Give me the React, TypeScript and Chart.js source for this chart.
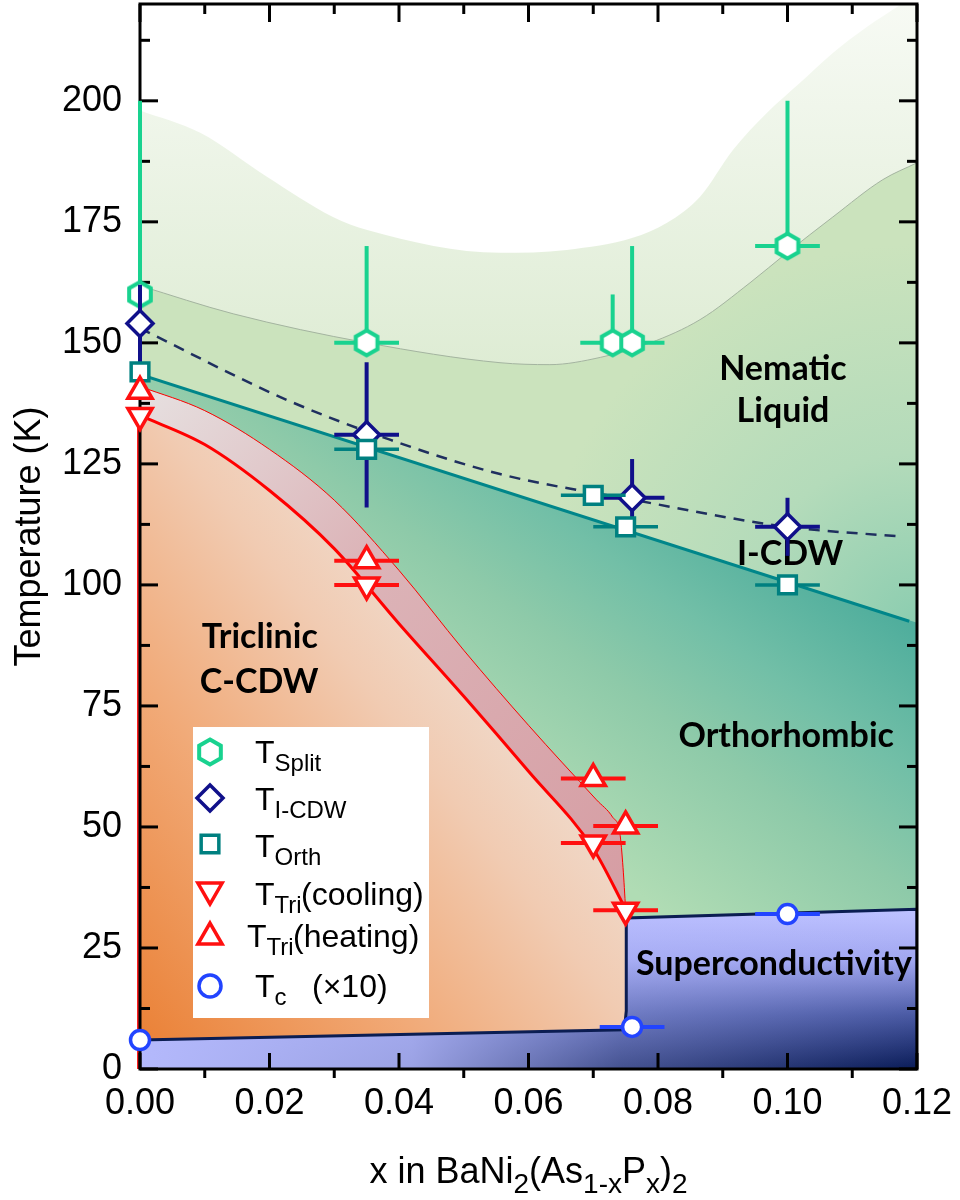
import React, { useEffect, useRef } from 'react';
import { Chart, registerables } from 'chart.js';
import { drawPoint } from 'chart.js/helpers';

Chart.register(...registerables);

// ---------------- data ----------------
const xTicks = [0, 0.02, 0.04, 0.06, 0.08, 0.1, 0.12];
const xMinorTicks = [0.01, 0.03, 0.05, 0.07, 0.09, 0.11];
const yTicks = [0, 25, 50, 75, 100, 125, 150, 175, 200];
const yMinorTicks = [12.5, 37.5, 62.5, 87.5, 112.5, 137.5, 162.5, 187.5, 212.5];

// T_Split (hexagons)
const splitX = [0, 0.035, 0.073, 0.076, 0.1];
const splitT = [160, 150, 150, 150, 170];
const splitErrUp = [40, 20, 10, 20, 30];
const splitErrX = [0, 0.005, 0.005, 0.005, 0.005];

// T_I-CDW (diamonds)
const icdwX = [0, 0.035, 0.076, 0.1];
const icdwT = [154, 131, 118, 112];
const icdwErr = [8, 15, 8, 6];
const icdwErrX = [0, 0.005, 0.005, 0.005];

// T_Orth (squares)
const orthX = [0, 0.035, 0.07, 0.075, 0.1];
const orthT = [144, 128, 118.5, 112, 100];
const orthErrX = [0, 0.005, 0.005, 0.005, 0.005];

// T_Tri cooling (down triangles)
const coolX = [0, 0.035, 0.07, 0.075];
const coolT = [135, 100, 46.7, 32.8];
const coolErrX = [0, 0.005, 0.005, 0.005];

// T_Tri heating (up triangles)
const heatX = [0, 0.035, 0.07, 0.075];
const heatT = [140, 105, 60, 50.2];
const heatErrX = [0, 0.005, 0.005, 0.005];

// Tc x10 (circles)
const tcX = [0, 0.076, 0.1];
const tcT = [6, 8.7, 32];
const tcErrX = [0, 0.005, 0.005];

// phase boundaries
const fluctX = [0, 0.0093, 0.0196, 0.0298, 0.0351, 0.0556, 0.0659, 0.0761, 0.0814, 0.0865, 0.0916, 0.0968, 0.1019, 0.107, 0.1123, 0.1174, 0.12];
const fluctT = [198, 193.4, 184.3, 176, 173.3, 168.6, 169.2, 171.7, 174.8, 180.2, 189.9, 197.5, 203.7, 209.9, 215.3, 219.8, 222];

const nematicX = [0, 0.0144, 0.0351, 0.0556, 0.0633, 0.0711, 0.0788, 0.0865, 0.0942, 0.0999, 0.107, 0.1147, 0.12];
const nematicT = [161.8, 156, 150, 145.9, 145.5, 147, 150, 154.8, 162.4, 168.6, 176, 183.7, 187.2];

const icdwLineX = [0, 0.0227, 0.0386, 0.0556, 0.0761, 0.0999, 0.1174];
const icdwLineT = [153, 138.2, 130, 122.9, 117.6, 112, 110];

const orthLineX = [0, 0.1188];
const orthLineT = [143.5, 92.5];
const orthFillX = [0, 0.12];
const orthFillT = [143.5, 92.2];

const heatLineX = [0, 0.01, 0.02, 0.03, 0.04, 0.05, 0.06, 0.0705, 0.073, 0.0741, 0.0746, 0.075];
const heatLineT = [141, 136, 128, 117.5, 103, 86.5, 71, 55.6, 52, 48.8, 41.6, 33];

const coolLineX = [0, 0.01, 0.02, 0.03, 0.04, 0.05, 0.06, 0.07, 0.075];
const coolLineT = [135, 129, 119.5, 107.5, 92, 77, 61.5, 45.5, 33];

const scX = [0, 0.0748, 0.0751, 0.0751, 0.12, 0.12];
const scT = [6, 8.1, 12, 31.2, 33, 0];

// ---------------- helpers ----------------
const SANS = '"Liberation Sans", Arial, sans-serif';
const BOLD = '"Lato", "Open Sans", sans-serif';
const C_SPLIT = '#19d28f';
const C_ICDW = '#10108a';
const C_ORTH = '#008080';
const C_TRI = '#ff1010';
const C_TC = '#2244ff';

const pts = (xs: number[], ys: number[]) => xs.map((x, i) => ({ x, y: ys[i] }));

function linGrad(chart: any, x0: number, y0: number, x1: number, y1: number, stops: [number, string][]) {
  const { ctx, scales } = chart;
  const g = ctx.createLinearGradient(
    scales.x.getPixelForValue(x0), scales.y.getPixelForValue(y0),
    scales.x.getPixelForValue(x1), scales.y.getPixelForValue(y1));
  stops.forEach(([o, c]) => g.addColorStop(o, c));
  return g;
}
function radGrad(chart: any, x0: number, y0: number, r: number, stops: [number, string][]) {
  const { ctx, scales } = chart;
  const cx = scales.x.getPixelForValue(x0), cy = scales.y.getPixelForValue(y0);
  const g = ctx.createRadialGradient(cx, cy, 0, cx, cy, r);
  stops.forEach(([o, c]) => g.addColorStop(o, c));
  return g;
}
const scripted = (fn: (chart: any) => any, fallback: string) => (c: any) =>
  c.chart.chartArea ? fn(c.chart) : fallback;

function makeHex(): HTMLCanvasElement {
  const cv = document.createElement('canvas');
  cv.width = 32; cv.height = 34;
  const g = cv.getContext('2d')!;
  g.beginPath();
  for (let k = 0; k < 6; k++) {
    const a = -Math.PI / 2 + k * Math.PI / 3;
    const x = 16 + 12.5 * Math.cos(a), y = 17 + 12.5 * Math.sin(a);
    if (k === 0) g.moveTo(x, y); else g.lineTo(x, y);
  }
  g.closePath();
  g.fillStyle = '#fff';
  g.fill();
  g.lineWidth = 4;
  g.strokeStyle = C_SPLIT;
  g.stroke();
  return cv;
}

type Part = { t: string; s?: boolean };
function drawRich(ctx: CanvasRenderingContext2D, parts: Part[], x: number, y: number, mainF: string, subF: string, subDy: number, center: boolean) {
  let w = 0;
  parts.forEach(p => { ctx.font = p.s ? subF : mainF; w += ctx.measureText(p.t).width; });
  let cx = center ? x - w / 2 : x;
  ctx.textAlign = 'left';
  ctx.textBaseline = 'alphabetic';
  parts.forEach(p => {
    ctx.font = p.s ? subF : mainF;
    ctx.fillText(p.t, cx, y + (p.s ? subDy : 0));
    cx += ctx.measureText(p.t).width;
  });
  return cx;
}

// error bars drawn beneath each marker dataset
const errorBarPlugin = {
  id: 'errorBars',
  beforeDatasetDraw(chart: any, args: any) {
    const ds: any = chart.data.datasets[args.index];
    if (!ds.errX && !ds.errUp) return;
    const { ctx, scales: { x, y } } = chart;
    ctx.save();
    ctx.strokeStyle = ds.errColor;
    ctx.lineWidth = ds.errWidth || 4;
    ctx.lineCap = 'butt';
    ds.data.forEach((p: any, i: number) => {
      const px = x.getPixelForValue(p.x), py = y.getPixelForValue(p.y);
      const dx = ds.errX ? ds.errX[i] : 0;
      if (dx) {
        ctx.beginPath();
        ctx.moveTo(x.getPixelForValue(p.x - dx), py);
        ctx.lineTo(x.getPixelForValue(p.x + dx), py);
        ctx.stroke();
      }
      const up = ds.errUp ? ds.errUp[i] : 0;
      const dn = ds.errDown ? ds.errDown[i] : 0;
      if (up || dn) {
        ctx.beginPath();
        ctx.moveTo(px, y.getPixelForValue(p.y + up));
        ctx.lineTo(px, y.getPixelForValue(p.y - dn));
        ctx.stroke();
      }
    });
    ctx.restore();
  },
};

const regionLabels = [
  { t: 'Nematic', x: 0.0993, y: 142.4 },
  { t: 'Liquid', x: 0.0993, y: 133.7 },
  { t: 'I-CDW', x: 0.1004, y: 104.1 },
  { t: 'Orthorhombic', x: 0.0998, y: 66.5 },
  { t: 'Triclinic', x: 0.0185, y: 87 },
  { t: 'C-CDW', x: 0.0184, y: 77.7 },
  { t: 'Superconductivity', x: 0.0979, y: 19.4 },
];

// frame, ticks and region labels drawn after the fills, under the markers
const framePlugin = {
  id: 'frame',
  afterDatasetDraw(chart: any, args: any) {
    const ds: any = chart.data.datasets[args.index];
    if (!ds.drawFrameAfter) return;
    const { ctx, chartArea: a, scales: { x, y } } = chart;
    ctx.save();
    // thin red edge of the triclinic region along x = 0
    ctx.strokeStyle = '#ff2020';
    ctx.lineWidth = 2;
    ctx.beginPath();
    ctx.moveTo(a.left - 2, y.getPixelForValue(135));
    ctx.lineTo(a.left - 2, a.bottom);
    ctx.stroke();

    ctx.strokeStyle = '#000';
    ctx.lineWidth = 3;
    ctx.lineCap = 'square';
    ctx.strokeRect(a.left, a.top, a.right - a.left, a.bottom - a.top);
    ctx.lineCap = 'butt';
    const seg = (x0: number, y0: number, x1: number, y1: number) => {
      ctx.beginPath(); ctx.moveTo(x0, y0); ctx.lineTo(x1, y1); ctx.stroke();
    };
    yTicks.forEach(v => { const p = y.getPixelForValue(v); seg(a.left, p, a.left + 18, p); seg(a.right, p, a.right - 18, p); });
    yMinorTicks.forEach(v => { const p = y.getPixelForValue(v); seg(a.left, p, a.left + 10, p); seg(a.right, p, a.right - 10, p); });
    xTicks.forEach(v => { const p = x.getPixelForValue(v); seg(p, a.top, p, a.top + 18); seg(p, a.bottom, p, a.bottom - 16); });
    xMinorTicks.forEach(v => { const p = x.getPixelForValue(v); seg(p, a.top, p, a.top + 10); seg(p, a.bottom, p, a.bottom + 9); });

    ctx.fillStyle = '#000';
    ctx.font = `bold 34px ${BOLD}`;
    ctx.textAlign = 'center';
    ctx.textBaseline = 'alphabetic';
    regionLabels.forEach(l => ctx.fillText(l.t, x.getPixelForValue(l.x), y.getPixelForValue(l.y)));
    ctx.restore();
  },
};

// legend and axis titles
const annotPlugin = {
  id: 'annot',
  afterDatasetsDraw(chart: any) {
    const { ctx, chartArea: a } = chart;
    const hex = chart.$hex;
    ctx.save();
    // legend box
    ctx.fillStyle = '#fff';
    ctx.fillRect(193, 727, 236, 291);
    const rows = [
      { color: C_SPLIT, style: hex, rot: 0, r: 12, my: 752, tx: 255, by: 763, sub: 'Split', tail: '', tailX: 0 },
      { color: C_ICDW, style: 'rectRot', rot: 0, r: 13, my: 798, tx: 255, by: 810, sub: 'I-CDW', tail: '', tailX: 0 },
      { color: C_ORTH, style: 'rect', rot: 0, r: 12.5, my: 844, tx: 255, by: 857, sub: 'Orth', tail: '', tailX: 0 },
      { color: C_TRI, style: 'triangle', rot: 180, r: 14, my: 890, tx: 255, by: 905, sub: 'Tri', tail: '(cooling)', tailX: 301 },
      { color: C_TRI, style: 'triangle', rot: 0, r: 14, my: 937, tx: 247, by: 947, sub: 'Tri', tail: '(heating)', tailX: 293 },
      { color: C_TC, style: 'circle', rot: 0, r: 11, my: 986, tx: 255, by: 997, sub: 'c', tail: '(\u00d710)', tailX: 312 },
    ];
    rows.forEach(r => {
      ctx.fillStyle = '#fff';
      ctx.strokeStyle = r.color;
      ctx.lineWidth = 3.5;
      drawPoint(ctx, { pointStyle: r.style, rotation: r.rot, radius: r.r, borderWidth: 3.5 } as any, 210, r.my);
      ctx.fillStyle = '#000';
      drawRich(ctx, [{ t: 'T' }, { t: r.sub, s: true }], r.tx, r.by, `32px ${SANS}`, `24px ${SANS}`, 8, false);
      if (r.tail) {
        ctx.font = `32px ${SANS}`;
        ctx.fillText(r.tail, r.tailX, r.by);
      }
    });

    // x axis title
    ctx.fillStyle = '#000';
    drawRich(ctx, [
      { t: 'x in BaNi' }, { t: '2', s: true }, { t: '(As' }, { t: '1-x', s: true },
      { t: 'P' }, { t: 'x', s: true }, { t: ')' }, { t: '2', s: true },
    ], (a.left + a.right) / 2, 1183, `36px ${SANS}`, `28px ${SANS}`, 10, true);

    // y axis title
    ctx.translate(40, (a.top + a.bottom) / 2);
    ctx.rotate(-Math.PI / 2);
    ctx.font = `36px ${SANS}`;
    ctx.textAlign = 'center';
    ctx.textBaseline = 'alphabetic';
    ctx.fillText('Temperature (K)', 0, 0);
    ctx.restore();
  },
};

export default function App() {
  const ref = useRef<HTMLCanvasElement>(null);
  useEffect(() => {
    const canvas = ref.current!;
    const hex = makeHex();
    const curve = { pointRadius: 0, cubicInterpolationMode: 'monotone' as const };
    const marker = (data: any, style: any, color: string, r: number, extra: any) => ({
      data, showLine: false, pointStyle: style, pointRadius: r, pointHoverRadius: r,
      pointBorderWidth: 3.5, pointBorderColor: color, pointBackgroundColor: '#fff',
      errColor: color, clip: false, ...extra,
    });

    const chart: any = new Chart(canvas, {
      type: 'line',
      data: {
        datasets: [
          // markers (top)
          marker(pts(tcX, tcT), 'circle', C_TC, 9.5, { order: 1, errX: tcErrX, errWidth: 4 }),
          marker(pts(heatX, heatT), 'triangle', C_TRI, 14, { order: 2, errX: heatErrX, errWidth: 4 }),
          marker(pts(coolX, coolT), 'triangle', C_TRI, 14, { order: 3, errX: coolErrX, errWidth: 4, pointRotation: 180 }),
          marker(pts(orthX, orthT), 'rect', C_ORTH, 12.5, { order: 4, errX: orthErrX, errWidth: 3.5 }),
          marker(pts(icdwX, icdwT), 'rectRot', C_ICDW, 13, { order: 5, errX: icdwErrX, errUp: icdwErr, errDown: icdwErr, errWidth: 4 }),
          marker(pts(splitX, splitT), hex, C_SPLIT, 12, { order: 6, errX: splitErrX, errUp: splitErrUp, errWidth: 4 }),
          // boundary lines
          { data: pts(orthLineX, orthLineT), pointRadius: 0, tension: 0, borderColor: '#00868a', borderWidth: 3, fill: false, order: 20, drawFrameAfter: true },
          { data: pts(icdwLineX, icdwLineT), ...curve, borderColor: '#1f2f5f', borderWidth: 2.5, borderDash: [11, 8], fill: false, order: 21 },
          // filled regions (bottom)
          {
            data: pts(scX, scT), pointRadius: 0, tension: 0, borderColor: '#0b1d52', borderWidth: 3, fill: 'origin', order: 94,
            backgroundColor: scripted(ch => linGrad(ch, 0, 0, 0.12, 0, [[0, 'rgba(180,185,252,1)'], [0.35, 'rgba(180,185,252,0.85)'], [0.62, 'rgba(180,185,252,0.34)'], [1, 'rgba(180,185,252,0)']]), '#b0b4f8'),
          },
          {
            data: pts(scX, scT), pointRadius: 0, tension: 0, borderWidth: 0, fill: 'origin', order: 95,
            backgroundColor: scripted(ch => linGrad(ch, 0, 32, 0, 0, [[0, '#bcc0ff'], [0.3, '#a0a6f0'], [0.65, '#4a5aa4'], [1, '#0a1c58']]), '#8088d0'),
          },
          {
            data: pts(coolLineX, coolLineT), ...curve, borderColor: '#ff0000', borderWidth: 3, fill: 'origin', order: 96,
            backgroundColor: scripted(ch => linGrad(ch, 0, 2, 0.071, 76, [[0, '#ea7f33'], [0.4, '#f1aa78'], [0.7, '#f1cbb2'], [1, '#efe4dc']]), '#f1b890'),
          },
          {
            data: pts(heatLineX, heatLineT), ...curve, borderColor: '#ff0000', borderWidth: 1, fill: 'origin', order: 97,
            backgroundColor: scripted(ch => linGrad(ch, 0, 140, 0.075, 40, [[0, '#e6e0e0'], [0.4, '#dcb4b8'], [1, '#d69ea4']]), '#dcb4b8'),
          },
          {
            data: pts(orthFillX, orthFillT), pointRadius: 0, tension: 0, borderWidth: 0, fill: 'origin', order: 98,
            backgroundColor: scripted(ch => linGrad(ch, 0.1097, 105.2, 0.0741, 39, [[0, '#4aab9b'], [0.35, '#72bfa7'], [0.6, '#8ecaa9'], [1, '#b0dcb4']]), '#80c4a8'),
          },
          {
            data: pts(nematicX, nematicT), ...curve, borderColor: '#a4b4a0', borderWidth: 1, fill: 'origin', order: 99,
            backgroundColor: scripted(ch => radGrad(ch, 0.12, 92, 380, [[0, '#8ccdb0'], [0.45, '#b4dbba'], [1, '#cbe3bd']]), '#cbe3bd'),
          },
          {
            data: pts(fluctX, fluctT), ...curve, borderWidth: 0, fill: 'origin', order: 100,
            backgroundColor: scripted(ch => linGrad(ch, 0, 220, 0, 145, [[0, '#f7faf4'], [1, '#deecd4']]), '#eef5e8'),
          },
        ] as any,
      },
      options: {
        animation: false,
        responsive: false,
        devicePixelRatio: 1,
        events: [],
        layout: { autoPadding: false, padding: { left: 0, top: 4, right: 43, bottom: 0 } },
        plugins: { legend: { display: false }, tooltip: { enabled: false } },
        scales: {
          x: {
            type: 'linear', min: 0, max: 0.12,
            afterBuildTicks: (s: any) => { s.ticks = xTicks.map(v => ({ value: v })); },
            ticks: { callback: (v: any) => Number(v).toFixed(2), font: { family: SANS, size: 36 }, color: '#000', padding: 13, maxRotation: 0, autoSkip: false },
            grid: { display: false, drawTicks: false },
            border: { display: false },
            afterFit: (s: any) => { s.height = 131; s.paddingLeft = 0; s.paddingRight = 0; },
          },
          y: {
            type: 'linear', min: 0, max: 220,
            afterBuildTicks: (s: any) => { s.ticks = yTicks.map(v => ({ value: v })); },
            ticks: { font: { family: SANS, size: 36, lineHeight: 0.2 }, color: '#000', padding: 18, autoSkip: false },
            grid: { display: false, drawTicks: false },
            border: { display: false },
            afterFit: (s: any) => { s.width = 140; s.paddingTop = 0; s.paddingBottom = 0; },
          },
        },
      } as any,
      plugins: [errorBarPlugin, framePlugin, annotPlugin],
    });
    chart.$hex = hex;
    chart.update();
    return () => chart.destroy();
  }, []);

  return (
    <div style={{ position: 'fixed', left: 0, top: 0, width: 960, height: 1200, background: '#fff' }}>
      <canvas ref={ref} width={960} height={1200} style={{ width: 960, height: 1200, display: 'block' }} />
    </div>
  );
}
